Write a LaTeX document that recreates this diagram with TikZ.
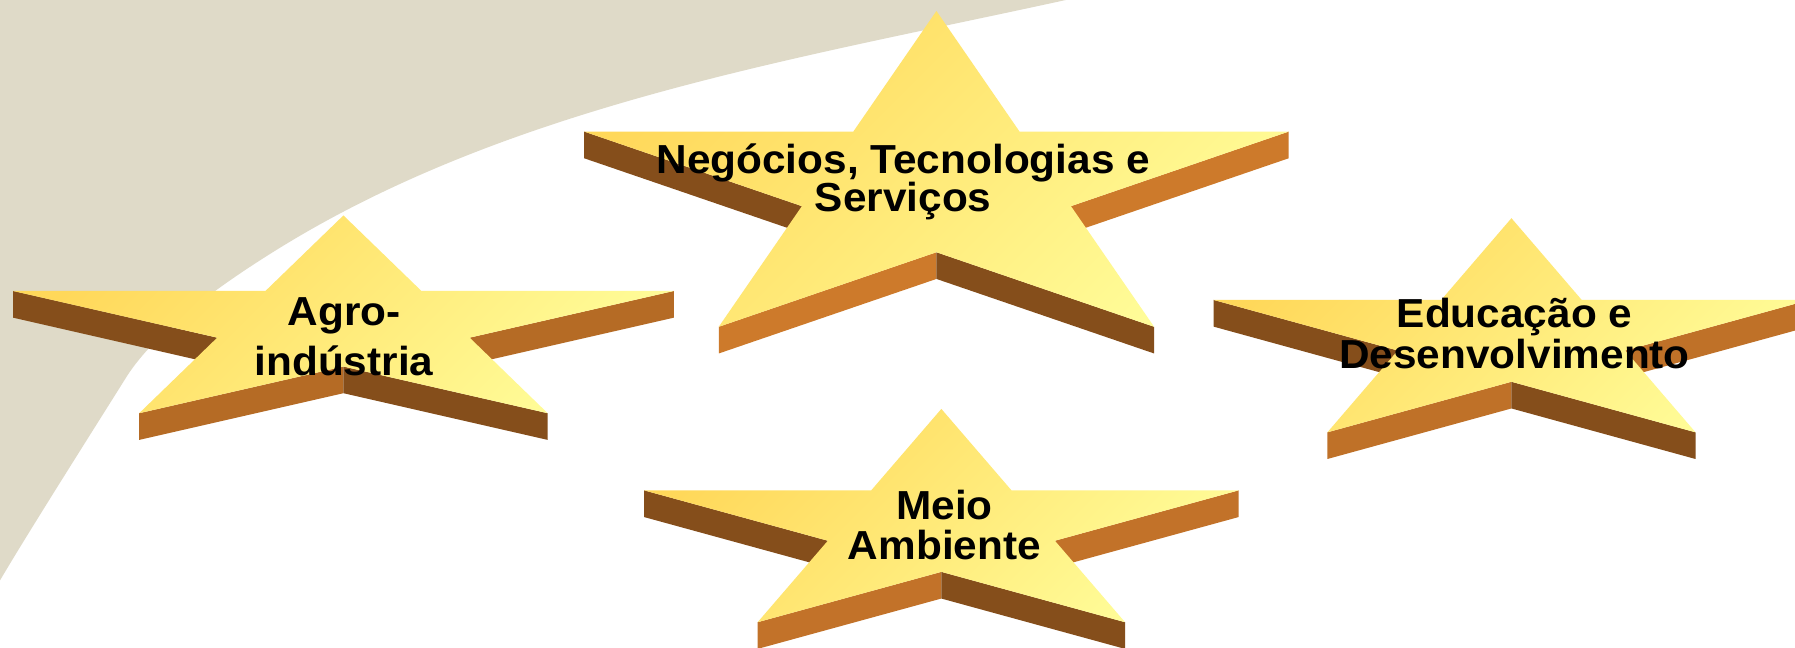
\documentclass[tikz,border=0pt]{standalone}
\usepackage{fontspec}
\setmainfont[FakeStretch=1.045]{Liberation Sans}
\definecolor{beige}{RGB}{223,218,200}
\definecolor{darkbrown}{RGB}{133,78,27}
\definecolor{gold}{RGB}{255,216,90}
\definecolor{paleyellow}{RGB}{255,252,152}
\definecolor{orangeA}{RGB}{205,122,43}
\definecolor{orangeB}{RGB}{181,107,37}
\definecolor{orangeC}{RGB}{191,113,40}
\definecolor{orangeD}{RGB}{194,114,41}
\tikzset{
  starface/.style={top color=gold, bottom color=paleyellow, shading angle=45},
  startext/.style={font={\bfseries\fontsize{17.7}{#1}\selectfont\lineskiplimit=-100pt},
     align=center, inner sep=0pt, anchor=base, text=black}
}
% #1 name, #2 cx, #3 cy, #4 R, #5 Ry, #6 light side colour
\newcommand\estrela[6]{%
  \path
    (#2,{#3-#5}) coordinate (#1-p0)
    ({#2+0.2245*#4},{#3-0.309*#5}) coordinate (#1-i0)
    ({#2+0.951*#4},{#3-0.309*#5}) coordinate (#1-p1)
    ({#2+0.3633*#4},{#3+0.118*#5}) coordinate (#1-i1)
    ({#2+0.5878*#4},{#3+0.809*#5}) coordinate (#1-p2)
    (#2,{#3+0.382*#5}) coordinate (#1-i2)
    ({#2-0.5878*#4},{#3+0.809*#5}) coordinate (#1-p3)
    ({#2-0.3633*#4},{#3+0.118*#5}) coordinate (#1-i3)
    ({#2-0.951*#4},{#3-0.309*#5}) coordinate (#1-p4)
    ({#2-0.2245*#4},{#3-0.309*#5}) coordinate (#1-i4);
  \path
    ([shift={(0,23.3)}]#1-p1) coordinate (#1-p1d)
    ([shift={(0,23.3)}]#1-i1) coordinate (#1-i1d)
    ([shift={(0,23.3)}]#1-p2) coordinate (#1-p2d)
    ([shift={(0,23.3)}]#1-i2) coordinate (#1-i2d)
    ([shift={(0,23.3)}]#1-p3) coordinate (#1-p3d)
    ([shift={(0,23.3)}]#1-i3) coordinate (#1-i3d)
    ([shift={(0,23.3)}]#1-p4) coordinate (#1-p4d);
  \fill[darkbrown] (#1-p4) -- (#1-i3) -- (#1-i3d) -- (#1-p4d) -- cycle;
  \fill[#6] (#1-i1) -- (#1-p1) -- (#1-p1d) -- (#1-i1d) -- cycle;
  \fill[#6] (#1-p3) -- (#1-i2) -- (#1-i2d) -- (#1-p3d) -- cycle;
  \fill[darkbrown] (#1-i2) -- (#1-p2) -- (#1-p2d) -- (#1-i2d) -- cycle;
  \shade[starface] (#1-p0) -- (#1-i0) -- (#1-p1) -- (#1-i1) -- (#1-p2) -- (#1-i2)
     -- (#1-p3) -- (#1-i3) -- (#1-p4) -- (#1-i4) -- cycle;
}
\begin{document}
\begin{tikzpicture}[x=0.5pt,y=-0.5pt]
  \useasboundingbox (0,0) rectangle (1568,566);
  \clip (0,0) rectangle (1568,566);
  \fill[white] (0,0) rectangle (1568,566);
  \fill[beige] (0,0) -- (931,0)
     .. controls (696.5,51.4) and (446,91.5) .. (242,218)
     .. controls (174,260.2) and (130.7,296.9) .. (110,330)
     .. controls (88.8,363.9) and (24,466) .. (0,507) -- cycle;

  \estrela{neg}{818}{162.1}{323.5}{152.5}{orangeA}
  \estrela{agro}{300}{283.7}{303.5}{95.5}{orangeB}
  \estrela{edu}{1320.3}{294}{273.5}{103.4}{orangeC}
  \estrela{meio}{822.3}{460.2}{273}{103}{orangeD}

  \node[startext=16.5pt] (negtxt) at (789,184.5) {Negócios, Tecnologias e\\Serviços};
  \node[startext=21.8pt] (agrotxt) at (300.5,327.6) {Agro-\\indústria};
  \node[startext=17.8pt] (edutxt) at (1323,321.8) {Educação e\\Desenvolvimento};
  \node[startext=17.6pt] (meiotxt) at (825,488.6) {Meio\\Ambiente};
\end{tikzpicture}
\end{document}
